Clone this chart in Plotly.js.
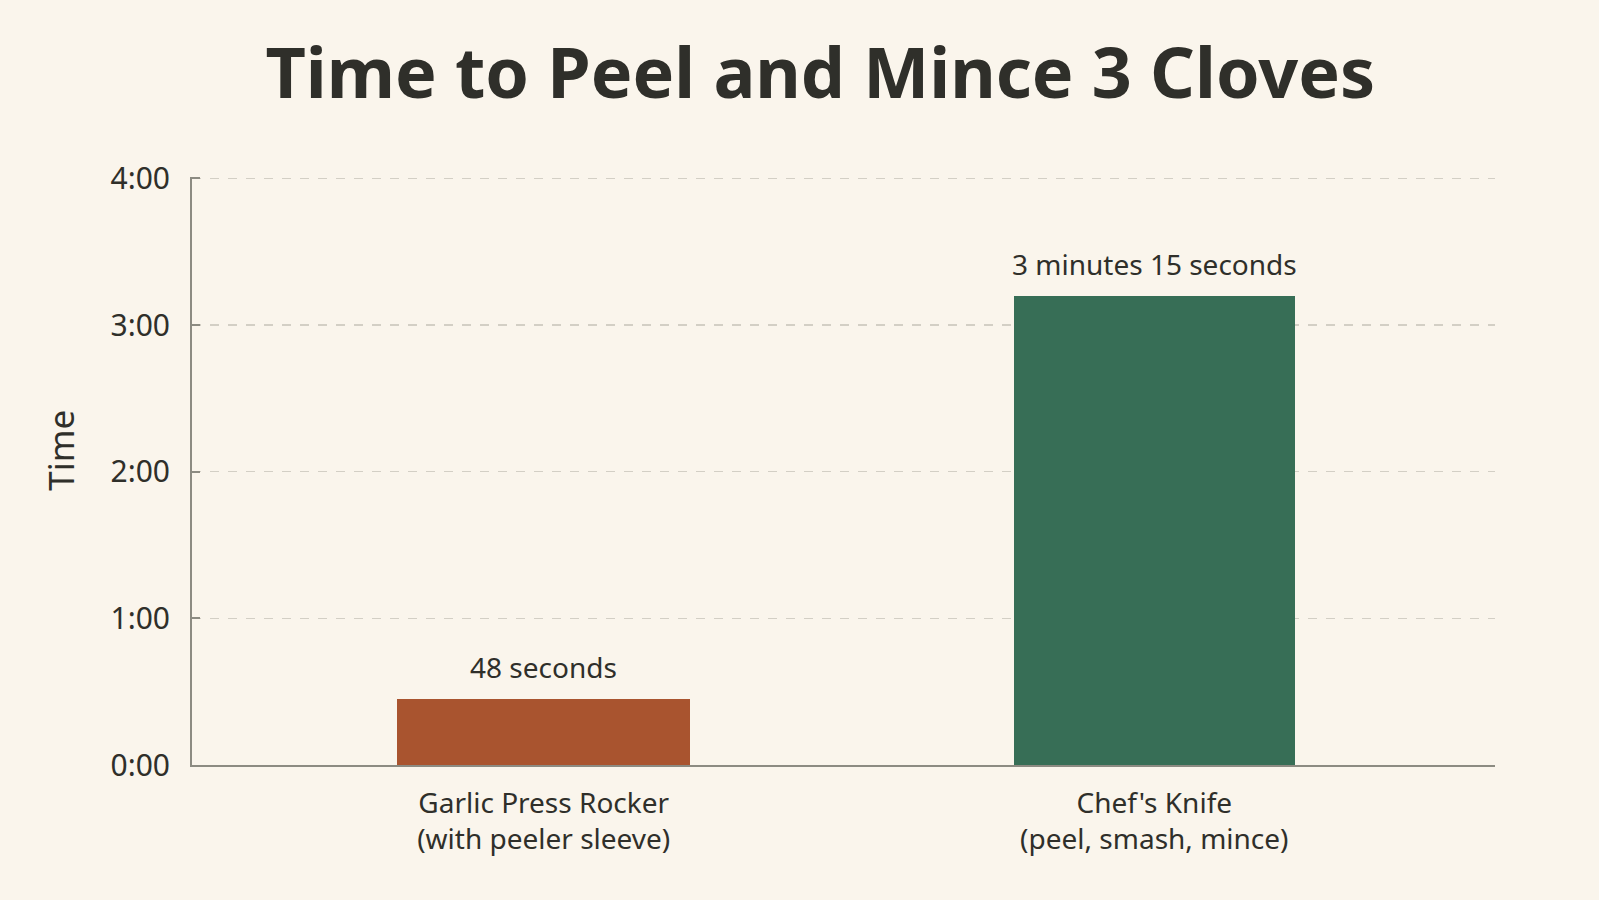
<!DOCTYPE html>
<html>
<head>
<meta charset="utf-8">
<script src="https://cdn.plot.ly/plotly-3.0.1.min.js"></script>
<style>
  html, body { margin: 0; padding: 0; background: #faf5ec; }
  #chart { width: 1599px; height: 900px; }
</style>
</head>
<body>
<div id="chart"></div>
<script>
// Datos: tiempo en segundos (altura dibujada de cada barra)
const herramientas = ['Garlic Press Rocker<br>(with peeler sleeve)', "Chef's Knife<br>(peel, smash, mince)"];
const segundos = [27, 192];
const etiquetas = ['48 seconds', '3 minutes 15 seconds'];
const colores = ['#a9542f', '#376e56'];
const anchos = [0.48, 0.46];
const ticksSegundos = [0, 60, 120, 180, 240];
const ticksTexto = ['0:00', '1:00', '2:00', '3:00', '4:00'];

const fuente = '"Noto Sans", "DejaVu Sans", sans-serif';
const tinta = '#2f2f2a';
const gris = '#8c8b82';

const traza = {
  type: 'bar',
  x: [0, 1],
  y: segundos,
  width: anchos,
  marker: { color: colores, line: { width: 0 } },
  hoverinfo: 'skip',
};

// etiquetas sobre cada barra, ancladas al valor de la barra
const anotaciones = etiquetas.map((txt, i) => ({
  x: i,
  y: segundos[i],
  xref: 'x',
  yref: 'y',
  text: txt,
  showarrow: false,
  yanchor: 'bottom',
  yshift: 11,
  font: { family: fuente, size: 28, color: tinta },
}));

// título del eje Y como anotación: en el original no está centrado en el área
// del gráfico sino un poco más arriba
anotaciones.push({
  x: -0.101,
  y: 0.535,
  xref: 'paper',
  yref: 'paper',
  xanchor: 'center',
  yanchor: 'middle',
  text: 'Time',
  textangle: -90,
  showarrow: false,
  font: { family: fuente, size: 35, color: tinta },
});

const layout = {
  width: 1599,
  height: 900,
  margin: { t: 177, r: 104, b: 135, l: 192 },
  paper_bgcolor: '#faf5ec',
  plot_bgcolor: '#faf5ec',
  font: { family: fuente, size: 28, color: tinta },
  title: {
    text: '<b>Time to Peel and Mince 3 Cloves</b>',
    x: 0.513,
    xanchor: 'center',
    y: 0.918,
    yanchor: 'middle',
    font: { family: fuente, size: 70, color: tinta },
  },
  showlegend: false,
  bargap: 0,
  xaxis: {
    range: [-0.576, 1.558],
    tickvals: [0, 1],
    ticktext: herramientas,
    showgrid: false,
    zeroline: false,
    showline: true,
    linecolor: gris,
    linewidth: 2,
    ticks: '',
    ticklabelstandoff: 12,
    tickfont: { family: fuente, size: 28, color: tinta },
    fixedrange: true,
  },
  yaxis: {
    range: [0, 240.6],
    tickvals: ticksSegundos,
    ticktext: ticksTexto,
    showgrid: true,
    gridcolor: '#d3cfc5',
    griddash: 'dash',
    gridwidth: 1.3,
    zeroline: false,
    showline: true,
    linecolor: gris,
    linewidth: 2,
    ticks: 'inside',
    ticklen: 8,
    tickwidth: 2,
    tickcolor: gris,
    ticklabelstandoff: 14,
    tickfont: { family: fuente, size: 30, color: tinta },
    fixedrange: true,
  },
  annotations: anotaciones,
};

Plotly.newPlot('chart', [traza], layout, { displayModeBar: false, staticPlot: true });
</script>
</body>
</html>
